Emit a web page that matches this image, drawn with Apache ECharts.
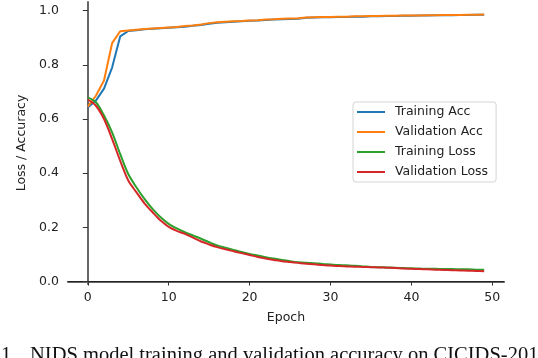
<!DOCTYPE html>
<html>
<head>
<meta charset="utf-8">
<script src="https://cdn.jsdelivr.net/npm/echarts@6/dist/echarts.min.js"></script>
<style>
  html, body { margin: 0; padding: 0; background: #fff; }
  #chart { width: 538px; height: 358px; }
</style>
</head>
<body>
<div id="chart"></div>
<script>
var epochs = [0,1,2,3,4,5,6,7,8,9,10,11,12,13,14,15,16,17,18,19,20,21,22,23,24,
  25,26,27,28,29,30,31,32,33,34,35,36,37,38,39,40,41,42,43,44,45,46,47,48,49];

var trainAcc = [0.643,0.668,0.712,0.790,0.905,0.925,0.928,0.931,0.933,0.935,
  0.937,0.939,0.941,0.944,0.947,0.952,0.955,0.957,0.959,0.961,
  0.963,0.964,0.966,0.967,0.968,0.969,0.970,0.974,0.975,0.976,
  0.976,0.977,0.977,0.978,0.978,0.979,0.979,0.980,0.980,0.981,
  0.981,0.982,0.982,0.983,0.983,0.983,0.984,0.984,0.985,0.985];

var valAcc = [0.646,0.686,0.742,0.880,0.924,0.927,0.930,0.932,0.934,0.936,
  0.938,0.940,0.943,0.945,0.949,0.954,0.957,0.959,0.961,0.962,
  0.964,0.965,0.967,0.968,0.970,0.971,0.972,0.975,0.976,0.977,
  0.977,0.978,0.978,0.979,0.979,0.980,0.980,0.981,0.981,0.982,
  0.982,0.982,0.983,0.983,0.984,0.984,0.984,0.985,0.985,0.986];

var trainLoss = [0.680,0.662,0.613,0.551,0.471,0.397,0.348,0.305,0.268,0.237,
  0.213,0.196,0.182,0.170,0.158,0.145,0.133,0.125,0.117,0.109,
  0.102,0.096,0.090,0.085,0.080,0.075,0.071,0.069,0.068,0.065,
  0.063,0.061,0.060,0.058,0.056,0.054,0.053,0.052,0.051,0.050,
  0.049,0.048,0.047,0.047,0.046,0.046,0.045,0.045,0.044,0.044];

var valLoss = [0.672,0.649,0.600,0.527,0.446,0.373,0.330,0.289,0.256,0.225,
  0.202,0.187,0.176,0.162,0.148,0.137,0.127,0.119,0.112,0.105,
  0.098,0.091,0.085,0.080,0.075,0.072,0.069,0.066,0.064,0.061,
  0.059,0.057,0.056,0.055,0.054,0.053,0.052,0.051,0.050,0.048,
  0.047,0.046,0.045,0.044,0.043,0.042,0.041,0.040,0.039,0.038];

var seriesNames = ['Training Acc', 'Validation Acc', 'Training Loss', 'Validation Loss'];
var seriesColors = ['#1f77b4', '#ff7f0e', '#2ca02c', '#d62728'];
var xTicks = [0, 10, 20, 30, 40, 50];
var yTicks = [0, 0.2, 0.4, 0.6, 0.8, 1.0];

var font = 'DejaVu Sans';
var allData = [trainAcc, valAcc, trainLoss, valLoss];

function pairs(ys) {
  return epochs.map(function (e, i) { return [e, ys[i]]; });
}

var myChart = echarts.init(document.getElementById('chart'));

myChart.setOption({
  animation: false,
  backgroundColor: '#fff',
  grid: { left: 68, right: 34, top: 2, bottom: 74 },
  legend: {
    orient: 'vertical',
    left: 353,
    top: 102,
    padding: [0, 8, 0, 4],
    itemGap: 0,
    itemWidth: 28,
    itemHeight: 2,
    icon: 'rect',
    borderColor: '#d4d4d4',
    borderWidth: 1,
    borderRadius: 3,
    data: seriesNames,
    textStyle: { fontFamily: font, fontSize: 12.5, color: '#222', lineHeight: 20, padding: [0, 0, 0, 5] }
  },
  xAxis: [{
    type: 'value',
    min: -2.45,
    max: 51.45,
    name: 'Epoch',
    nameLocation: 'middle',
    nameGap: 27,
    nameTextStyle: { fontFamily: font, fontSize: 12.5, color: '#222' },
    axisLine: { show: true, lineStyle: { color: '#666', width: 2 } },
    axisTick: { show: true, customValues: xTicks, length: 4, lineStyle: { color: '#333', width: 1 } },
    axisLabel: { customValues: xTicks, margin: 7, fontFamily: font, fontSize: 12.5, color: '#222' },
    splitLine: { show: false }
  }, {
    type: 'value',
    position: 'top',
    min: -2.45,
    max: 51.45,
    axisLine: { show: true, lineStyle: { color: '#222', width: 1 } },
    axisTick: { show: false },
    axisLabel: { show: false },
    splitLine: { show: false }
  }],
  yAxis: [{
    type: 'value',
    min: -0.009,
    max: 1.032,
    name: 'Loss / Accuracy',
    nameLocation: 'middle',
    nameGap: 32,
    nameTextStyle: { fontFamily: font, fontSize: 12.5, color: '#222' },
    axisLine: { show: true, lineStyle: { color: '#d9d9d9', width: 2 } },
    axisTick: { show: true, customValues: yTicks, length: 5, lineStyle: { color: '#333', width: 1 } },
    axisLabel: {
      customValues: yTicks, margin: 9, fontFamily: font, fontSize: 12.5, color: '#222',
      formatter: function (v) { return v.toFixed(1); }
    },
    splitLine: { show: false }
  }, {
    type: 'value',
    position: 'right',
    min: -0.009,
    max: 1.032,
    axisLine: { show: true, lineStyle: { color: '#666', width: 2 } },
    axisTick: { show: false },
    axisLabel: { show: false },
    splitLine: { show: false }
  }],
  series: seriesNames.map(function (name, i) {
    return {
      name: name,
      type: 'line',
      data: pairs(allData[i]),
      showSymbol: false,
      symbol: 'none',
      smooth: i >= 2 ? 0.3 : false,
      color: seriesColors[i],
      lineStyle: { width: 2, color: seriesColors[i] },
      z: 2 + i
    };
  }),
  // caption under the figure, cut by the picture edge
  graphic: [{
    type: 'text',
    x: 1,
    y: 355.5,
    style: { text: '1.', fontFamily: 'Liberation Serif', fontSize: 20.5, fill: '#111', verticalAlign: 'middle' }
  }, {
    type: 'text',
    x: 30,
    y: 355.5,
    style: { text: 'NIDS model training and validation accuracy on CICIDS-2017', fontFamily: 'Liberation Serif', fontSize: 20.5, fill: '#111', verticalAlign: 'middle' }
  }]
});
</script>
</body>
</html>
